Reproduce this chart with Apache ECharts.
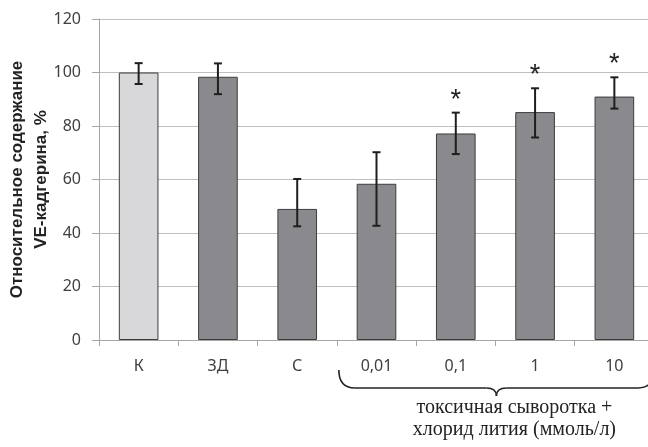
<!DOCTYPE html>
<html>
<head>
<meta charset="utf-8">
<script src="https://cdn.jsdelivr.net/npm/echarts@6/dist/echarts.min.js"></script>
<style>
html,body{margin:0;padding:0;background:#fff;overflow:hidden;}
#chart{width:648px;height:447px;}
</style>
</head>
<body>
<div id="chart"></div>
<script>
const categories = ['К', 'ЗД', 'С', '0,01', '0,1', '1', '10'];
const values = [100, 98.4, 49, 58.4, 77.2, 85.2, 91];
const errUpper = [103.5, 103.4, 60.2, 70.2, 85.0, 94.1, 98.2];
const errLower = [95.7, 91.9, 42.5, 42.7, 69.5, 75.7, 86.5];
const stars = ['', '', '', '', '*', '*', '*'];
const yMin = 0, yMax = 120, yStep = 20;
const groupFirst = 3, groupLast = 6;
const groupLabel = ['токсичная сыворотка +', 'хлорид лития (ммоль/л)'];
const yName = 'Относительное содержание\nVE-кадгерина, %';

const chart = echarts.init(document.getElementById('chart'), null, {renderer: 'canvas'});

const errData = categories.map((c, i) => [i, errLower[i], errUpper[i]]);
const starData = categories.map((c, i) => [i, errUpper[i], stars[i]]);

chart.setOption({
  animation: false,
  backgroundColor: '#fff',
  grid: {left: 99, right: -6, top: 19, bottom: 107, containLabel: false, outerBoundsMode: 'none'},
  xAxis: {
    type: 'category',
    data: categories,
    axisLine: {lineStyle: {color: '#a6a6a6', width: 1}},
    axisTick: {show: true, length: 6, lineStyle: {color: '#a6a6a6'}},
    axisLabel: {color: '#404040', fontFamily: 'Noto Sans', fontSize: 16, margin: 18}
  },
  yAxis: {
    type: 'value',
    min: yMin, max: yMax, interval: yStep,
    name: yName,
    nameLocation: 'middle',
    nameRotate: 90,
    nameGap: 46,
    nameMoveOverlap: false,
    nameTextStyle: {fontFamily: 'Liberation Sans', fontWeight: 'bold', fontSize: 17, color: '#222', lineHeight: 24},
    axisLine: {show: true, lineStyle: {color: '#a6a6a6'}},
    axisTick: {show: true, length: 7, lineStyle: {color: '#a6a6a6'}},
    axisLabel: {color: '#404040', fontFamily: 'Noto Sans', fontSize: 16, margin: 18},
    splitLine: {lineStyle: {color: '#bfbfbf', width: 1}}
  },
  series: [
    {
      type: 'bar',
      data: values,
      barWidth: '50%',
      itemStyle: {
        color: (p) => p.dataIndex === 0 ? '#d8d8da' : '#8a8a8e',
        borderColor: '#3c3c3c',
        borderWidth: 1
      },
      z: 2
    },
    {
      type: 'custom',
      data: errData,
      z: 5,
      renderItem: (params, api) => {
        const x = api.value(0);
        const lo = api.coord([x, api.value(1)]);
        const hi = api.coord([x, api.value(2)]);
        const cap = 4;
        const style = {stroke: '#1e1e1e', lineWidth: 2};
        return {
          type: 'group',
          children: [
            {type: 'line', shape: {x1: lo[0], y1: lo[1], x2: hi[0], y2: hi[1]}, style},
            {type: 'line', shape: {x1: hi[0] - cap, y1: hi[1], x2: hi[0] + cap, y2: hi[1]}, style},
            {type: 'line', shape: {x1: lo[0] - cap, y1: lo[1], x2: lo[0] + cap, y2: lo[1]}, style}
          ]
        };
      }
    },
    {
      type: 'custom',
      data: starData,
      z: 6,
      renderItem: (params, api) => {
        const i = params.dataIndex;
        const p = api.coord([api.value(0), api.value(1)]);
        return {
          type: 'text',
          style: {
            text: starData[i][2],
            x: p[0], y: p[1] + 1,
            align: 'center', verticalAlign: 'bottom',
            font: '27px "Liberation Sans"',
            fill: '#222'
          }
        };
      }
    }
  ]
});

// brace under the grouped categories
const c0 = chart.convertToPixel({xAxisIndex: 0}, groupFirst);
const c1 = chart.convertToPixel({xAxisIndex: 0}, groupFirst + 1);
const cN = chart.convertToPixel({xAxisIndex: 0}, groupLast);
const band = c1 - c0;
const bx0 = c0 - band / 2 + 2;
const bx1 = cN + band / 2;
const base = chart.convertToPixel({yAxisIndex: 0}, yMin);
const yTop = base + 30, yMid = base + 48, yTip = base + 56;
const xm = (bx0 + bx1) / 2;
const bs = {stroke: '#222', lineWidth: 1.6, fill: null};

chart.setOption({
  graphic: [
    {type: 'bezierCurve', shape: {x1: bx0, y1: yTop, x2: bx0 + 16, y2: yMid, cpx1: bx0, cpy1: yMid}, style: bs},
    {type: 'line', shape: {x1: bx0 + 16, y1: yMid, x2: xm - 10, y2: yMid}, style: bs},
    {type: 'bezierCurve', shape: {x1: xm - 10, y1: yMid, x2: xm, y2: yTip, cpx1: xm, cpy1: yMid}, style: bs},
    {type: 'bezierCurve', shape: {x1: xm, y1: yTip, x2: xm + 10, y2: yMid, cpx1: xm, cpy1: yMid}, style: bs},
    {type: 'line', shape: {x1: xm + 10, y1: yMid, x2: bx1 - 16, y2: yMid}, style: bs},
    {type: 'bezierCurve', shape: {x1: bx1 - 16, y1: yMid, x2: bx1, y2: yTop, cpx1: bx1, cpy1: yMid}, style: bs},
    {
      type: 'text',
      x: xm + 18, y: base + 68,
      style: {text: groupLabel[0], font: '20px "Liberation Serif"', fill: '#222', align: 'center', verticalAlign: 'middle'}
    },
    {
      type: 'text',
      x: xm + 18, y: base + 90,
      style: {text: groupLabel[1], font: '20px "Liberation Serif"', fill: '#222', align: 'center', verticalAlign: 'middle'}
    }
  ]
});
</script>
</body>
</html>
